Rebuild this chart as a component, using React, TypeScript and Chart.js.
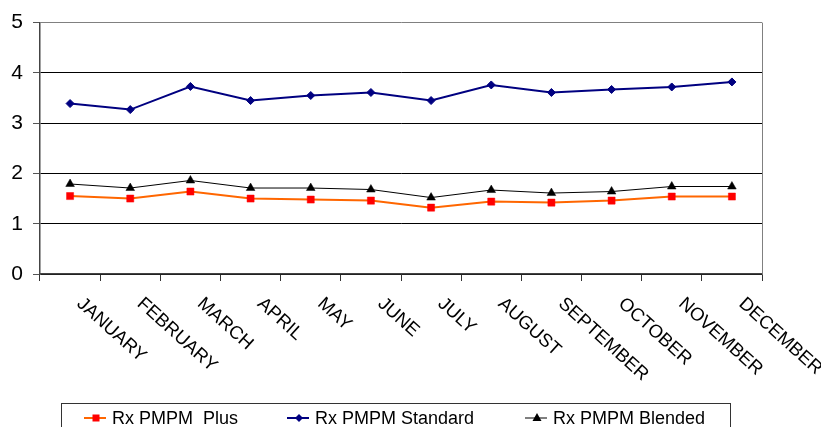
import React, { useEffect, useRef } from "react";
import { Chart, registerables } from "chart.js";

Chart.register(...registerables);

const months = [
  "JANUARY", "FEBRUARY", "MARCH", "APRIL", "MAY", "JUNE",
  "JULY", "AUGUST", "SEPTEMBER", "OCTOBER", "NOVEMBER", "DECEMBER",
];
const plusValues = [1.55, 1.5, 1.64, 1.5, 1.48, 1.46, 1.32, 1.44, 1.42, 1.46, 1.54, 1.54];
const standardValues = [3.39, 3.27, 3.73, 3.45, 3.55, 3.61, 3.45, 3.76, 3.61, 3.67, 3.72, 3.82];
const blendedValues = [1.79, 1.71, 1.86, 1.71, 1.71, 1.68, 1.52, 1.67, 1.61, 1.64, 1.74, 1.74];
const seriesNames = ["Rx PMPM  Plus", "Rx PMPM Standard", "Rx PMPM Blended"];

const FONT = "'Liberation Sans', Arial, sans-serif";

const decorPlugin = {
  id: "decor",
  afterDraw(chart: any) {
    const ctx = chart.ctx as CanvasRenderingContext2D;
    const area = chart.chartArea;
    const xScale = chart.scales.x;

    // right border of plot area
    ctx.save();
    ctx.strokeStyle = "#808080";
    ctx.lineWidth = 1;
    ctx.beginPath();
    ctx.moveTo(Math.round(area.right) + 0.5, area.top);
    ctx.lineTo(Math.round(area.right) + 0.5, area.bottom);
    ctx.stroke();
    ctx.restore();

    // rotated category labels
    ctx.save();
    ctx.fillStyle = "#000";
    ctx.font = `18.5px ${FONT}`;
    ctx.textAlign = "left";
    ctx.textBaseline = "alphabetic";
    const labels = chart.data.labels as string[];
    labels.forEach((lab, i) => {
      const x = xScale.getPixelForValue(i);
      ctx.save();
      ctx.translate(x + 6, area.bottom + 31);
      ctx.rotate((42 * Math.PI) / 180);
      ctx.fillText(lab, 0, 0);
      ctx.restore();
    });
    ctx.restore();

    // legend box
    ctx.save();
    ctx.strokeStyle = "#333";
    ctx.lineWidth = 1;
    ctx.strokeRect(61.5, 403.5, 669, 40);
    const starts = [84, 287, 525];
    const ds = chart.data.datasets;
    ds.forEach((d: any, i: number) => {
      const x0 = starts[i];
      const ly = 418;
      ctx.strokeStyle = d.borderColor;
      ctx.lineWidth = d.borderWidth;
      ctx.beginPath();
      ctx.moveTo(x0, ly);
      ctx.lineTo(x0 + 22, ly);
      ctx.stroke();
      const cx = x0 + 12;
      ctx.fillStyle = d.pointBackgroundColor;
      ctx.beginPath();
      if (d.pointStyle === "rect") {
        ctx.rect(cx - 3.5, ly - 3.5, 7, 7);
      } else if (d.pointStyle === "rectRot") {
        ctx.moveTo(cx - 4, ly);
        ctx.lineTo(cx, ly - 4);
        ctx.lineTo(cx + 4, ly);
        ctx.lineTo(cx, ly + 4);
        ctx.closePath();
      } else {
        ctx.moveTo(cx, ly - 5);
        ctx.lineTo(cx + 4.5, ly + 3);
        ctx.lineTo(cx - 4.5, ly + 3);
        ctx.closePath();
      }
      ctx.fill();
      ctx.fillStyle = "#000";
      ctx.font = `18px ${FONT}`;
      ctx.textBaseline = "alphabetic";
      ctx.fillText(d.label, x0 + 28, 424);
    });
    ctx.restore();
  },
};

export default function App() {
  const canvasRef = useRef<HTMLCanvasElement | null>(null);

  useEffect(() => {
    if (!canvasRef.current) return;
    const chart = new Chart(canvasRef.current, {
      type: "line",
      data: {
        labels: months,
        datasets: [
          {
            label: seriesNames[0],
            data: plusValues,
            borderColor: "#FF6600",
            borderWidth: 2,
            pointStyle: "rect",
            pointRadius: 5,
            pointBackgroundColor: "#FF0000",
            pointBorderColor: "#FF0000",
            pointBorderWidth: 0.5,
            tension: 0,
          },
          {
            label: seriesNames[1],
            data: standardValues,
            borderColor: "#000080",
            borderWidth: 2,
            pointStyle: "rectRot",
            pointRadius: 4,
            pointBackgroundColor: "#000080",
            pointBorderColor: "#000080",
            pointBorderWidth: 1,
            tension: 0,
          },
          {
            label: seriesNames[2],
            data: blendedValues,
            borderColor: "#000000",
            borderWidth: 1,
            pointStyle: "triangle",
            pointRadius: 5,
            pointBackgroundColor: "#000000",
            pointBorderColor: "#000000",
            pointBorderWidth: 0.5,
            tension: 0,
          },
        ],
      },
      options: {
        responsive: true,
        maintainAspectRatio: false,
        animation: false,
        layout: { padding: { left: 0, right: 59, top: 19, bottom: 0 } },
        plugins: {
          legend: { display: false },
          tooltip: { enabled: false },
          title: { display: false },
        },
        scales: {
          x: {
            type: "category",
            offset: true,
            grid: {
              display: true,
              drawOnChartArea: false,
              drawTicks: true,
              tickLength: 7,
              offset: true,
              color: "#333",
              lineWidth: 1,
            },
            border: { display: true, color: "#444", width: 1.5 },
            ticks: { display: false },
            afterFit: (scale: any) => {
              scale.height = 153;
            },
          },
          y: {
            min: 0,
            max: 5,
            ticks: {
              stepSize: 1,
              padding: 10,
              color: "#000",
              font: { family: FONT, size: 21 },
            },
            grid: {
              color: (c: any) => (c.tick && c.tick.value === 5 ? "#808080" : "#000"),
              lineWidth: 1,
              tickColor: "#555",
              tickLength: 7,
              drawTicks: true,
            },
            border: { display: true, color: "#444", width: 1.5 },
            afterFit: (scale: any) => {
              scale.width = 40;
            },
          },
        },
      },
      plugins: [decorPlugin],
    });
    return () => chart.destroy();
  }, []);

  return (
    <div style={{ position: "fixed", left: 0, top: 0, width: 821, height: 427, background: "#fff" }}>
      <canvas ref={canvasRef} />
    </div>
  );
}
